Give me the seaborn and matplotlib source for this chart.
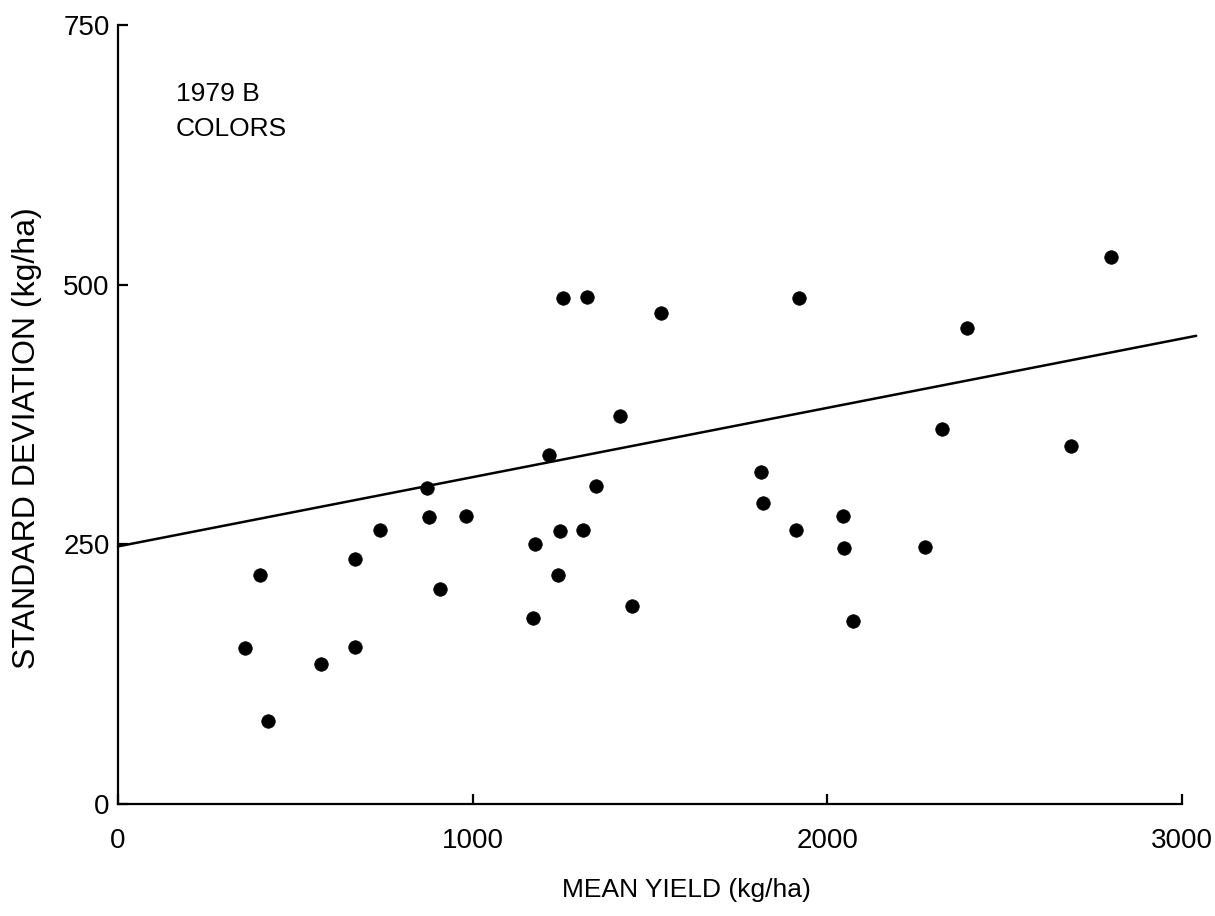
import matplotlib
matplotlib.use("Agg")
import matplotlib.pyplot as plt
import seaborn as sns
import numpy as np
import pandas as pd

# Data
mean_yield = [358, 401, 423, 572, 668, 669, 739, 871, 878, 907, 981,
              1171, 1176, 1214, 1241, 1245, 1255, 1312, 1321, 1349, 1416, 1448, 1532,
              1813, 1820, 1911, 1919, 2043, 2046, 2072, 2276, 2322, 2395, 2686, 2801]
std_dev = [150, 220, 80, 135, 151, 236, 264, 304, 276, 207, 277,
           179, 250, 336, 220, 263, 487, 264, 488, 306, 374, 191, 473,
           320, 290, 264, 487, 277, 246, 176, 247, 361, 458, 345, 527]

# Fitted line drawn in the reference (intercept, slope), and its x extent
line_intercept = 248
line_slope = 0.0667
line_x = [0, 3040]

x_ticks = [0, 1000, 2000, 3000]
y_ticks = [0, 250, 500, 750]
x_label = "MEAN YIELD (kg/ha)"
y_label = "STANDARD DEVIATION (kg/ha)"
note = "1979 B\nCOLORS"

sns.set_style("ticks")
plt.rcParams["font.family"] = ["Liberation Sans", "DejaVu Sans"]

fig = plt.figure(figsize=(12.15, 9.16), dpi=100)
ax = fig.add_axes([118 / 1215, 1 - 804 / 916, 1064 / 1215, 779 / 916])

df = pd.DataFrame({"x": mean_yield, "y": std_dev})
sns.scatterplot(data=df, x="x", y="y", ax=ax, color="black", s=95,
                edgecolor="black", linewidth=0.5, zorder=3)

lx = np.array(line_x, dtype=float)
ldf = pd.DataFrame({"x": lx, "y": line_intercept + line_slope * lx})
sns.lineplot(data=ldf, x="x", y="y", ax=ax, color="black", linewidth=1.8)
for l in ax.lines:
    l.set_clip_on(False)

ax.set_xlim(0, 3000)
ax.set_ylim(0, 750)
ax.set_xticks(x_ticks)
ax.set_yticks(y_ticks)
ax.set_xticklabels([str(t) for t in x_ticks])
ax.set_yticklabels([str(t) for t in y_ticks])
sns.despine(ax=ax)
for sp in ["left", "bottom"]:
    ax.spines[sp].set_linewidth(1.6)
    ax.spines[sp].set_color("black")

ax.tick_params(axis="x", direction="in", length=7, width=1.6, pad=17,
               labelsize=20, colors="black")
ax.tick_params(axis="y", direction="in", length=7, width=1.6, pad=6,
               labelsize=20, colors="black")

ax.set_xlabel(x_label, fontsize=19, color="black")
ax.set_ylabel(y_label, fontsize=23, color="black")
ax.xaxis.set_label_coords((686 - 118) / 1064, (804 - 878) / 779)
ax.xaxis.label.set_va("top")
ax.yaxis.set_label_coords((42 - 118) / 1064, (804 - 438) / 779)

ax.text((176 - 118) / 1064, (804 - 82) / 779, note, transform=ax.transAxes,
        ha="left", va="top", fontsize=19, linespacing=1.6, color="black")

fig.savefig("out.png", dpi=100, facecolor="white")
